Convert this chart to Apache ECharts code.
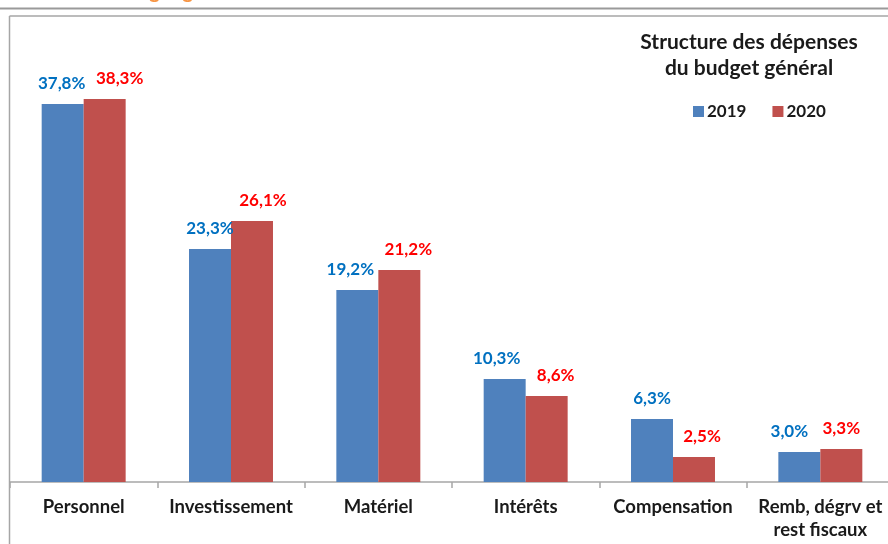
<!DOCTYPE html>
<html>
<head>
<meta charset="utf-8">
<script src="https://cdn.jsdelivr.net/npm/echarts@6/dist/echarts.min.js"></script>
<style>
html,body{margin:0;padding:0;background:#fff;overflow:hidden;}
#chart{width:894px;height:544px;}
</style>
</head>
<body>
<div id="chart"></div>
<script>
var categories = ['Personnel', 'Investissement', 'Matériel', 'Intérêts', 'Compensation', 'Remb, dégrv et\nrest fiscaux'];
var values2019 = [37.8, 23.3, 19.2, 10.3, 6.3, 3.0];
var values2020 = [38.3, 26.1, 21.2, 8.6, 2.5, 3.3];
var seriesNames = ['2019', '2020'];
var FONT = 'Lato';

// horizontal nudges of the value labels (style only)
var shift2019 = [-1, 0, -7, -8, 0, -10];
var shift2020 = [15, 11, 9, 9, 8, 0];

function fmt(p) { return p.value.toFixed(1).replace('.', ',') + '%'; }
function withShift(vals, shifts) {
  return vals.map(function (v, i) { return {value: v, label: {offset: [shifts[i], 0]}}; });
}

var chart = echarts.init(document.getElementById('chart'), null, {renderer: 'canvas'});
chart.setOption({
  animation: false,
  backgroundColor: '#ffffff',
  title: {
    text: 'Structure des dépenses\ndu budget général',
    left: 744, top: 24, textAlign: 'center',
    textStyle: {fontFamily: FONT, fontWeight: 'bold', fontSize: 21, color: '#1a1a1a', lineHeight: 26}
  },
  legend: {
    data: seriesNames,
    left: 688, top: 98,
    itemWidth: 11, itemHeight: 11, itemGap: 26,
    icon: 'rect',
    textStyle: {fontFamily: FONT, fontWeight: 'bold', fontSize: 17, color: '#1a1a1a', padding: [0, 0, 0, -2]}
  },
  graphic: [
    {type: 'text', left: 0, top: -18, style: {text: 'Structure du budget général', fill: '#F79646', font: 'bold 20px Lato'}},
    {type: 'line', shape: {x1: 0, y1: 8.5, x2: 894, y2: 8.5}, style: {stroke: '#9a9a9a', lineWidth: 2}},
    {type: 'line', shape: {x1: 9.5, y1: 16, x2: 9.5, y2: 544}, style: {stroke: '#a6a6a6', lineWidth: 1.5}},
    {type: 'line', shape: {x1: 9.5, y1: 16, x2: 894, y2: 16}, style: {stroke: '#a6a6a6', lineWidth: 1.5}}
  ],
  grid: {left: 10, right: 0, top: 82, bottom: 62, containLabel: false},
  xAxis: {
    type: 'category',
    data: categories,
    axisLine: {lineStyle: {color: '#a6a6a6', width: 1.5}},
    axisTick: {show: true, length: 6, lineStyle: {color: '#a6a6a6', width: 1.5}},
    axisLabel: {
      margin: 14, interval: 0,
      fontFamily: FONT, fontWeight: 'bold', fontSize: 18.5, color: '#1a1a1a', lineHeight: 23
    }
  },
  yAxis: {type: 'value', min: 0, max: 40, show: false, splitLine: {show: false}},
  series: [
    {
      name: seriesNames[0], type: 'bar', data: withShift(values2019, shift2019),
      barGap: '0%', barCategoryGap: '43%',
      itemStyle: {color: '#4F81BD'},
      label: {show: true, position: 'top', distance: 12, formatter: fmt,
        fontFamily: FONT, fontWeight: 'bold', fontSize: 17, color: '#0070C0'}
    },
    {
      name: seriesNames[1], type: 'bar', data: withShift(values2020, shift2020),
      barGap: '0%', barCategoryGap: '43%',
      itemStyle: {color: '#C0504D'},
      label: {show: true, position: 'top', distance: 12, formatter: fmt,
        fontFamily: FONT, fontWeight: 'bold', fontSize: 17, color: '#FF0000'}
    }
  ]
});
</script>
</body>
</html>
